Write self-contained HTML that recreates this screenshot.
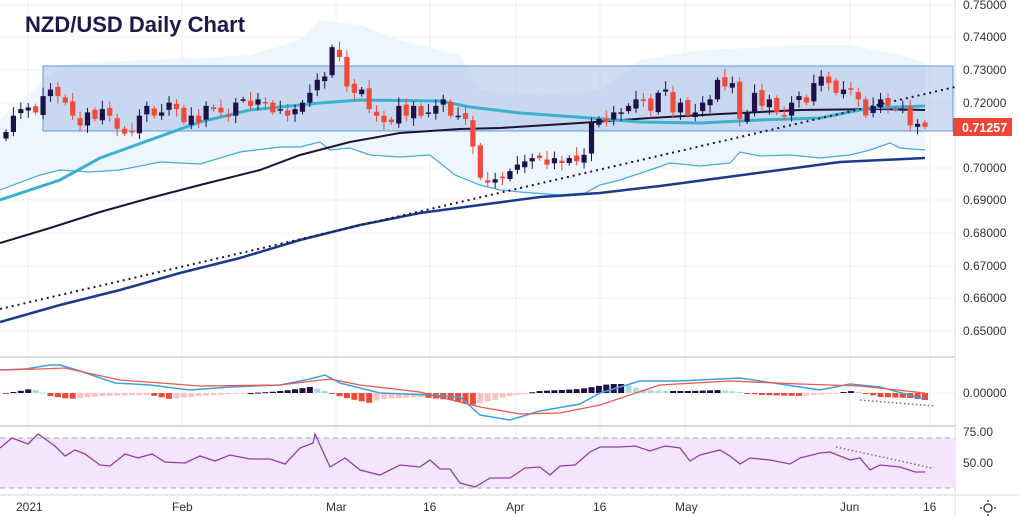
<!DOCTYPE html>
<html><head><meta charset="utf-8"><style>
html,body{margin:0;padding:0;background:#fff;width:1019px;height:517px;overflow:hidden;font-family:"Liberation Sans",sans-serif}
svg{display:block}
</style></head><body>
<svg id="s" width="1019" height="517" xmlns="http://www.w3.org/2000/svg" font-family="Liberation Sans, sans-serif">
<g stroke="#eef0f4" stroke-width="1">
<line x1="28" y1="0" x2="28" y2="495"/><line x1="182" y1="0" x2="182" y2="495"/><line x1="336" y1="0" x2="336" y2="495"/><line x1="430" y1="0" x2="430" y2="495"/><line x1="516" y1="0" x2="516" y2="495"/><line x1="600" y1="0" x2="600" y2="495"/><line x1="685" y1="0" x2="685" y2="495"/><line x1="850" y1="0" x2="850" y2="495"/><line x1="930" y1="0" x2="930" y2="495"/>
<line x1="0" y1="5" x2="955" y2="5"/><line x1="0" y1="37" x2="955" y2="37"/><line x1="0" y1="70" x2="955" y2="70"/><line x1="0" y1="103" x2="955" y2="103"/><line x1="0" y1="135" x2="955" y2="135"/><line x1="0" y1="168" x2="955" y2="168"/><line x1="0" y1="200" x2="955" y2="200"/><line x1="0" y1="233" x2="955" y2="233"/><line x1="0" y1="266" x2="955" y2="266"/><line x1="0" y1="298" x2="955" y2="298"/><line x1="0" y1="331" x2="955" y2="331"/>
<line x1="0" y1="393" x2="955" y2="393"/><line x1="0" y1="463" x2="955" y2="463"/>
</g>
<polygon fill="#eef6fd" points="0,120 60,65 100,62 150,60 200,58 250,55 300,40 320,20 360,25 400,40 460,55 480,90 540,95 600,90 640,60 700,50 750,48 800,45 850,45 900,55 925,62 925,147 900,148 890,143 870,150 850,155 820,158 790,155 760,156 740,152 730,163 700,166 670,163 650,170 620,180 600,185 585,193 560,195 520,192 500,190 480,185 455,175 430,155 400,157 370,155 350,148 330,150 320,142 300,147 280,147 240,152 200,164 160,162 120,170 90,172 60,170 40,175 0,190"/>
<rect x="43" y="66" width="910" height="65" fill="#a9bfe6" fill-opacity="0.55" stroke="#5e9ad8" stroke-width="1"/>
<polyline fill="none" stroke="#45a8e6" stroke-width="1.2" points="0,190 40,175 60,170 90,172 120,170 160,162 200,164 240,152 280,147 300,147 320,142 330,150 350,148 370,155 400,157 430,155 455,175 480,185 500,190 520,192 560,195 585,193 600,185 620,180 650,170 670,163 700,166 730,163 740,152 760,156 790,155 820,158 850,155 870,150 890,143 900,148 925,150"/>
<polyline fill="none" stroke="#1b3a8c" stroke-width="2.5" points="0,322 60,305 120,290 180,273 240,258 300,240 360,225 420,213 480,205 540,197 600,193 660,186 720,178 780,170 840,162 925,158"/>
<polyline fill="none" stroke="#1f1338" stroke-width="2" points="0,243 50,228 100,212 150,198 200,185 260,170 300,155 350,142 400,133 460,129 500,128 580,123 650,118 720,114 800,110 880,109 925,110"/>
<polyline fill="none" stroke="#3bb0d0" stroke-width="3" points="0,200 60,180 100,158 150,140 200,122 250,110 320,103 360,100 440,101 470,107 520,113 590,118 640,122 700,123 760,120 820,118 870,108 925,106"/>
<line x1="0" y1="309" x2="955" y2="87" stroke="#1f1338" stroke-width="2" stroke-dasharray="2,4"/>
<g id="candles"></g>
<g id="hist"></g>
<line x1="0" y1="357" x2="955" y2="357" stroke="#d8dbe2" stroke-width="2"/>
<line x1="0" y1="426" x2="955" y2="426" stroke="#d8dbe2" stroke-width="2"/>
<line x1="0" y1="495" x2="1019" y2="495" stroke="#d8dbe2" stroke-width="1"/>
<line x1="955" y1="0" x2="955" y2="517" stroke="#d8dbe2" stroke-width="1"/>
<polyline fill="none" stroke="#3aa0e8" stroke-width="1.5" points="0,370 25,369 50,365 60,365 80,371 115,383 150,385 190,390 230,387 280,385 310,379 325,375 340,383 380,393 430,395 460,397 480,415 510,420 540,411 580,404 600,393 640,381 680,381 740,378 780,384 820,390 850,384 880,387 920,398 925,398"/>
<polyline fill="none" stroke="#ec5a4a" stroke-width="1.3" points="0,370 40,369 65,368 120,380 200,386 280,385 330,379 360,385 420,392 480,407 520,414 560,413 600,405 660,385 730,381 800,384 860,386 925,393"/>
<line x1="860" y1="400" x2="935" y2="406" stroke="#777" stroke-width="1.5" stroke-dasharray="1.5,2.5"/>
<rect x="0" y="438" width="955" height="50" fill="#f3e6fc"/>
<line x1="0" y1="438" x2="955" y2="438" stroke="#aaa" stroke-dasharray="5,4"/>
<line x1="0" y1="488" x2="955" y2="488" stroke="#aaa" stroke-dasharray="5,4"/>
<polyline fill="none" stroke="#8e3fa8" stroke-width="1.3" points="0,448 12,438 28,444 38,434 55,446 65,456 75,450 85,454 100,465 110,466 125,454 138,458 152,454 165,462 185,463 200,456 215,461 230,455 250,459 270,459 285,464 300,448 313,443 315,434 330,467 345,458 360,470 380,475 400,465 420,467 430,460 440,469 450,469 460,483 475,487 490,478 510,478 525,468 540,467 550,475 560,466 575,465 590,452 600,447 620,447 635,446 650,451 665,446 680,448 690,461 700,455 720,450 730,456 740,464 750,458 770,460 790,464 800,458 820,453 830,452 850,460 860,458 870,470 880,465 900,467 915,472 925,472"/>
<line x1="836" y1="447" x2="932" y2="468" stroke="#777" stroke-width="1.5" stroke-dasharray="1.5,2.5"/>
<g font-size="12" fill="#333">
<text x="963" y="9">0.75000</text><text x="963" y="41">0.74000</text><text x="963" y="74">0.73000</text><text x="963" y="107">0.72000</text><text x="963" y="172">0.70000</text><text x="963" y="204">0.69000</text><text x="963" y="237">0.68000</text><text x="963" y="270">0.67000</text><text x="963" y="302">0.66000</text><text x="963" y="335">0.65000</text>
<text x="963" y="397">0.00000</text><text x="963" y="436">75.00</text><text x="963" y="467">50.00</text>
<text x="16" y="511">2021</text><text x="172" y="511">Feb</text><text x="326" y="511">Mar</text><text x="423" y="511">16</text><text x="506" y="511">Apr</text><text x="593" y="511">16</text><text x="675" y="511">May</text><text x="840" y="511">Jun</text><text x="923" y="511">16</text>
</g>
<rect x="953" y="118" width="59" height="18" fill="#ee4538"/>
<text x="962" y="132" font-size="12.5" font-weight="bold" fill="#fff">0.71257</text>
<circle cx="988" cy="508" r="4" fill="none" stroke="#333" stroke-width="1.3"/>
<g stroke="#333" stroke-width="1.3"><line x1="988" y1="500" x2="988" y2="502"/><line x1="988" y1="514" x2="988" y2="516"/><line x1="980" y1="508" x2="982" y2="508"/><line x1="994" y1="508" x2="996" y2="508"/></g>
<text x="25" y="32" font-size="22" font-weight="bold" fill="#21184a">NZD/USD Daily Chart</text>
</svg>
<script>
var closes=[0.711,0.716,0.718,0.7185,0.717,0.722,0.724,0.722,0.720,0.716,0.713,0.717,0.715,0.718,0.716,0.712,0.7105,0.711,0.716,0.719,0.716,0.717,0.720,0.718,0.714,0.716,0.714,0.719,0.718,0.717,0.716,0.720,0.721,0.719,0.721,0.720,0.717,0.718,0.716,0.718,0.720,0.723,0.727,0.728,0.737,0.734,0.725,0.723,0.724,0.718,0.716,0.714,0.714,0.719,0.716,0.719,0.716,0.717,0.719,0.721,0.716,0.716,0.715,0.7065,0.697,0.6955,0.6965,0.697,0.699,0.701,0.702,0.703,0.703,0.701,0.703,0.7015,0.703,0.702,0.704,0.714,0.715,0.714,0.717,0.717,0.719,0.721,0.7205,0.7175,0.723,0.724,0.717,0.720,0.716,0.717,0.720,0.721,0.727,0.725,0.726,0.715,0.717,0.723,0.719,0.721,0.717,0.716,0.720,0.722,0.720,0.726,0.728,0.726,0.723,0.724,0.724,0.721,0.716,0.719,0.721,0.719,0.718,0.718,0.713,0.7135,0.7126];
function Y(p){return 70+(0.73-p)*3262.5;}
var n=closes.length,x0=6,x1=925,dx=(x1-x0)/(n-1),h='';
for(var i=0;i<n;i++){var c=closes[i],o=i?closes[i-1]+(((i*7)%5)-2)*0.0004:c-0.002;var up=c>=o;var x=x0+i*dx;
var hi=Math.max(o,c)+0.0008+((i*3)%4)*0.0006,lo=Math.min(o,c)-0.0008-((i*5)%4)*0.0005;
var col=up?'#1f1147':'#ef4a3c';var t=Y(Math.max(o,c)),b=Y(Math.min(o,c));if(b-t<1.5)b=t+1.5;
h+='<line x1="'+x+'" y1="'+Y(hi)+'" x2="'+x+'" y2="'+Y(lo)+'" stroke="'+col+'" stroke-width="1"/><rect x="'+(x-2.6)+'" y="'+t+'" width="5.2" height="'+(b-t)+'" fill="'+col+'"/>';}
document.getElementById('candles').innerHTML=h;
function interp(pts,x){for(var i=1;i<pts.length;i++){if(x<=pts[i][0]){var a=pts[i-1],b=pts[i];return a[1]+(b[1]-a[1])*(x-a[0])/(b[0]-a[0]);}}return pts[pts.length-1][1];}
var H=[[0,-1],[20,2],[30,4],[40,2],[50,-3],[70,-6],[100,-3],[150,-2],[170,-6],[200,-3],[230,-1],[270,1],[290,3],[310,6],[320,4],[335,-2],[350,-6],[370,-10],[380,-6],[420,-4],[450,-7],[470,-12],[490,-8],[510,-3],[540,2],[580,4],[610,9],[625,9],[640,4],[660,2],[690,2],[720,3],[740,1],[760,-2],[800,-3],[830,-1],[850,2],[860,1],[880,-4],[910,-5],[925,-7]];
var g='',prev=0;
for(var i=0;i<n;i++){var x=x0+i*dx;var d=interp(H,x);var col;
if(d>=0)col=(d>=prev)?'#1f1147':'#a8dcd6';else col=(d<=prev)?'#ef4a3c':'#f9c3c3';prev=d;
var y=393-Math.max(d,0),hh=Math.max(Math.abs(d),1);g+='<rect x="'+(x-3)+'" y="'+y+'" width="6" height="'+hh+'" fill="'+col+'"/>';}
document.getElementById('hist').innerHTML=g;
</script>
</body></html>
